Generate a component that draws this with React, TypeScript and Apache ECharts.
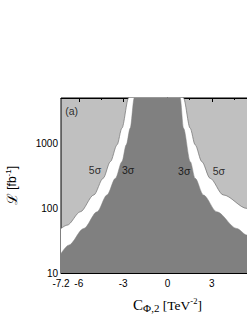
import React, { useEffect, useRef } from "react";
import * as echarts from "echarts";

// 5 sigma boundary (white below, light gray above)
const sigma5: [number, number][] = [
  [-7.2, 48.6], [-6.78, 54.7], [-5.89, 88], [-4.98, 160], [-4.35, 289], [-3.86, 522],
  [-3.41, 948], [-3.08, 1718], [-2.63, 5000], [-2.45, 10000], [0.95, 10000], [1.08, 5000],
  [1.53, 1718], [1.87, 948], [2.32, 522], [2.88, 289], [3.77, 160], [5.37, 99], [6.2, 85], [7.2, 75],
];
// 3 sigma boundary (dark gray below)
const sigma3: [number, number][] = [
  [-7.2, 20], [-6.68, 26.9], [-5.66, 48.6], [-4.76, 88], [-4.09, 160], [-3.52, 289],
  [-3.08, 522], [-2.79, 948], [-2.52, 1718], [-2.25, 5000], [-2.1, 10000], [0.75, 10000],
  [0.86, 5000], [1.08, 1718], [1.54, 522], [1.87, 289], [2.43, 160], [3.33, 88], [4.68, 48.6],
  [5.37, 38.4], [6.2, 30], [7.2, 24],
];
const textLabels = [
  { name: "(a)", value: [-6.48, 3184] },
  { name: "5σ", value: [-4.9, 389] },
  { name: "3σ", value: [-2.66, 389] },
  { name: "3σ", value: [1.13, 375] },
  { name: "5σ", value: [3.47, 375] },
];
const xLabelValues = [-7.2, -6, -3, 0, 3];
const xMajorTicks = [-6, -3, 0, 3, 6];
const xMinorTicks = [-4.5, -1.5, 1.5, 4.5];
const yMajorTicks = [10, 100, 1000];
const yMinorTicks = [20, 30, 40, 50, 60, 70, 80, 90, 200, 300, 400, 500, 600, 700, 800, 900, 2000, 3000, 4000, 5000];

const SANS = "Liberation Sans, Arial, sans-serif";
const SERIF = "Liberation Serif, Times New Roman, serif";

export default function App() {
  const ref = useRef<HTMLDivElement>(null);
  useEffect(() => {
    if (!ref.current) return;
    const chart = echarts.init(ref.current, undefined, { renderer: "svg" });
    const xBase = { type: "value", min: -7.2, max: 7.2, splitLine: { show: false } };
    const yBase = { type: "log", logBase: 10, min: 10, max: 5000, splitLine: { show: false } };
    chart.setOption({
      animation: false,
      grid: {
        left: 61, top: 98, width: 213, height: 175,
        outerBoundsMode: "none", containLabel: false,
        show: true, backgroundColor: "#c0c0c0", borderColor: "#000", borderWidth: 1,
      },
      xAxis: [
        {
          ...xBase, position: "bottom",
          axisLine: { show: true, lineStyle: { color: "#000", width: 1 } },
          axisTick: { show: true, inside: true, length: 4, customValues: xMajorTicks, lineStyle: { color: "#000" } },
          axisLabel: { show: true, customValues: xLabelValues, margin: 5, color: "#000", fontSize: 10, fontFamily: SANS,
            formatter: (v: number) => String(v) },
          name: "{c|C}{sub|Φ,2}{t| [TeV}{sup|-2}{t|]}",
          nameLocation: "middle", nameGap: 23,
          nameTextStyle: {
            color: "#000",
            rich: {
              c: { fontFamily: SERIF, fontSize: 15, color: "#000", lineHeight: 18 },
              sub: { fontFamily: SERIF, fontSize: 11, color: "#000", padding: [6, 0, 0, 0], lineHeight: 18 },
              t: { fontFamily: SERIF, fontSize: 13.5, color: "#000", lineHeight: 18 },
              sup: { fontFamily: SERIF, fontSize: 8.5, color: "#000", padding: [0, 0, 8, 0], lineHeight: 18 },
            },
          },
        },
        {
          ...xBase, position: "bottom",
          axisLine: { show: false },
          axisTick: { show: true, inside: true, length: 2, customValues: xMinorTicks, lineStyle: { color: "#000" } },
          axisLabel: { show: false },
        },
        {
          ...xBase, position: "top",
          axisLine: { show: true, lineStyle: { color: "#000", width: 1 } },
          axisTick: { show: true, inside: true, length: 4, customValues: xMajorTicks, lineStyle: { color: "#000" } },
          axisLabel: { show: false },
        },
        {
          ...xBase, position: "top",
          axisLine: { show: false },
          axisTick: { show: true, inside: true, length: 2, customValues: xMinorTicks, lineStyle: { color: "#000" } },
          axisLabel: { show: false },
        },
      ],
      yAxis: [
        {
          ...yBase, position: "left",
          axisLine: { show: true, lineStyle: { color: "#000", width: 1 } },
          axisTick: { show: true, inside: true, length: 4, customValues: yMajorTicks, lineStyle: { color: "#000" } },
          axisLabel: { show: true, customValues: yMajorTicks, margin: 3, color: "#000", fontSize: 10, fontFamily: SANS,
            formatter: (v: number) => String(Math.round(v)) },
          name: "{l|ℒ}{t| [fb}{sup|-1}{t|]}",
          nameLocation: "middle", nameRotate: 90, nameGap: 40,
          nameTextStyle: {
            color: "#000",
            rich: {
              l: { fontFamily: "DejaVu Serif", fontSize: 14, color: "#000", lineHeight: 18 },
              t: { fontFamily: SANS, fontSize: 12, color: "#000", lineHeight: 18 },
              sup: { fontFamily: SANS, fontSize: 8, color: "#000", padding: [0, 0, 8, 0], lineHeight: 18 },
            },
          },
        },
        {
          ...yBase, position: "left",
          axisLine: { show: false },
          axisTick: { show: true, inside: true, length: 2, customValues: yMinorTicks, lineStyle: { color: "#000" } },
          axisLabel: { show: false },
        },
      ],
      series: [
        {
          type: "line", xAxisIndex: 0, yAxisIndex: 0, data: sigma5, showSymbol: false,
          smooth: 0.3, smoothMonotone: "x", clip: true,
          lineStyle: { color: "#707070", width: 0.7 },
          areaStyle: { color: "#ffffff", opacity: 1, origin: "start" },
          z: 2,
        },
        {
          type: "line", xAxisIndex: 0, yAxisIndex: 0, data: sigma3, showSymbol: false,
          smooth: 0.3, smoothMonotone: "x", clip: true,
          lineStyle: { color: "#808080", width: 0.5 },
          areaStyle: { color: "#808080", opacity: 1, origin: "start" },
          z: 3,
        },
        {
          type: "scatter", xAxisIndex: 0, yAxisIndex: 0, data: textLabels, symbolSize: 0, z: 5,
          label: { show: true, position: "inside", formatter: (p: any) => p.name, color: "#000", fontSize: 10.5, fontFamily: SANS },
        },
      ],
    });
    return () => chart.dispose();
  }, []);
  return (
    <div style={{ position: "absolute", left: 0, top: 0, width: 247, height: 319, overflow: "hidden", background: "#fff" }}>
      <div ref={ref} style={{ width: 247, height: 319 }} />
    </div>
  );
}
